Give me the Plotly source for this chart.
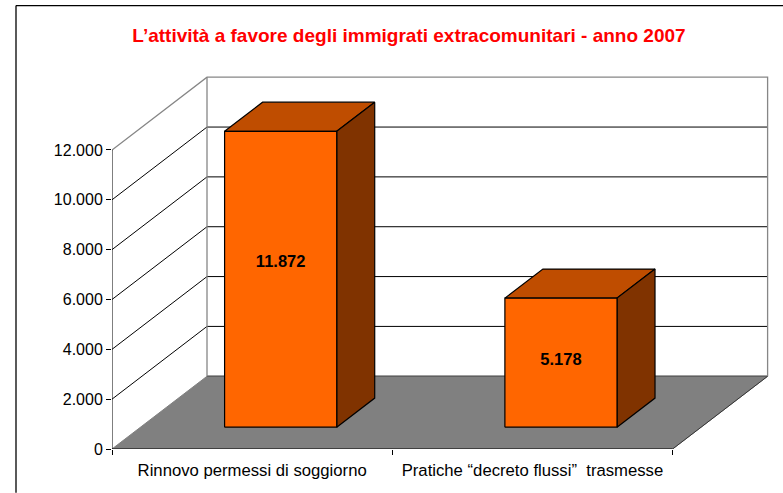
import plotly.graph_objects as go

TITLE = "L’attività a favore degli immigrati extracomunitari - anno 2007"
categories = ["Rinnovo permessi di soggiorno", "Pratiche “decreto flussi”  trasmesse"]
values = [11872, 5178]
value_labels = ["11.872", "5.178"]
y_ticks = [0, 2000, 4000, 6000, 8000, 10000, 12000]
y_tick_labels = ["0", "2.000", "4.000", "6.000", "8.000", "10.000", "12.000"]
label_levels = [6600, 2650]

W, H = 783, 493
L, T, BASE = 112, 60, 449.3
PX_X = 280.3      # pixels per category
PX_Y = 0.02494    # pixels per unit
DEPTH_X, DEPTH_Y = 95, 72.8  # pixel offset of back wall
BAR_GAP = 0.3
D0, D1 = 0.3, 0.7
N = len(categories)
YMAX = y_ticks[-1]


def proj(x, v, d=0.0):
    """oblique projection: category position, value, depth -> axis coordinates"""
    return x + d * DEPTH_X / PX_X, v + d * DEPTH_Y / PX_Y


def poly(points, fill=None, line="#000000", width=1.2, close=True):
    pts = [proj(*p) for p in points]
    if close:
        pts.append(pts[0])
    return go.Scatter(
        x=[p[0] for p in pts], y=[p[1] for p in pts], mode="lines",
        fill="toself" if fill else None, fillcolor=fill,
        line=dict(color=line, width=width), hoverinfo="skip", showlegend=False,
        cliponaxis=False,
    )


fig = go.Figure()

# floor
fig.add_trace(poly([(0, 0, 0), (N, 0, 0), (N, 0, 1), (0, 0, 1)], fill="#808080", line="#808080", width=1))
fig.add_trace(poly([(0, 0, 1), (N, 0, 1)], line="#5f5f5f", width=1.5, close=False))
fig.add_trace(poly([(N, 0, 0), (N, 0, 1)], line="#333333", width=1, close=False))

# walls: grid lines
for t in y_ticks[1:-1]:
    fig.add_trace(poly([(0, t, 0), (0, t, 1), (N, t, 1)], line="#000000", width=1, close=False))
fig.add_trace(poly([(0, YMAX, 0), (0, YMAX, 1), (N, YMAX, 1), (N, 0, 1)], line="#868686", width=1.3, close=False))
fig.add_trace(poly([(0, 0, 1), (0, YMAX, 1)], line="#868686", width=1.3, close=False))

# bars
for i, v in enumerate(values):
    a, b = i + BAR_GAP, i + 1 - BAR_GAP
    fig.add_trace(poly([(a, v, D0), (b, v, D0), (b, v, D1), (a, v, D1)], fill="#BF4D00"))
    fig.add_trace(poly([(b, 0, D0), (b, v, D0), (b, v, D1), (b, 0, D1)], fill="#803300"))
    fig.add_trace(poly([(a, 0, D0), (b, 0, D0), (b, v, D0), (a, v, D0)], fill="#FF6600"))

# value labels
lx, ly = zip(*[proj(i + 0.5, lv, D0) for i, lv in enumerate(label_levels)])
fig.add_trace(go.Scatter(
    x=lx, y=ly, mode="text", text=value_labels, textposition="middle center",
    textfont=dict(family="Liberation Sans", size=16.5, color="#000000", weight="bold"),
    hoverinfo="skip", showlegend=False,
))

plot_w, plot_h = W - L, BASE - T
fig.update_layout(
    width=W, height=H, autosize=False,
    margin=dict(l=L, r=0, t=T, b=H - BASE, pad=0),
    paper_bgcolor="#ffffff", plot_bgcolor="#ffffff",
    font=dict(family="Liberation Sans", color="#000000", size=16),
    title=dict(
        text=f"<b>{TITLE}</b>", x=409 / W, xanchor="center", y=1 - 35 / H, yanchor="middle",
        xref="container", yref="container",
        font=dict(family="Liberation Sans", size=19, color="#FF0000"),
    ),
    xaxis=dict(
        range=[0, plot_w / PX_X], showgrid=False, zeroline=False, showline=False,
        tickmode="array", tickvals=[i + 0.5 for i in range(N)], ticktext=categories, ticks="",
        tickfont=dict(size=16.7), ticklabelstandoff=9,
        minor=dict(tickmode="array", tickvals=list(range(N + 1)), ticks="outside", ticklen=5,
                   tickcolor="#000000", tickwidth=1),
        fixedrange=True,
    ),
    yaxis=dict(
        range=[0, plot_h / PX_Y], showgrid=False, zeroline=False, showline=False,
        tickmode="array", tickvals=y_ticks, ticktext=y_tick_labels,
        ticks="outside", ticklen=5, tickcolor="#000000", tickwidth=1,
        fixedrange=True,
    ),
    shapes=[
        # front axes
        dict(type="line", xref="x", yref="y", x0=0, x1=0, y0=0, y1=YMAX,
             line=dict(color="#000000", width=1)),
        dict(type="line", xref="x", yref="y", x0=0, x1=N, y0=0, y1=0,
             line=dict(color="#000000", width=1.2)),
        # frame around the chart, open at the right and bottom
        dict(type="line", xref="paper", yref="paper", x0=(16 - L) / plot_w, x1=1,
             y0=(BASE - 5.5) / plot_h, y1=(BASE - 5.5) / plot_h, line=dict(color="#000000", width=1.3)),
        dict(type="line", xref="paper", yref="paper", x0=(16 - L) / plot_w, x1=(16 - L) / plot_w,
             y0=(BASE - 5.5) / plot_h, y1=(BASE - H) / plot_h, line=dict(color="#000000", width=1.3)),
    ],
)

fig.write_html("out.html", config={"displayModeBar": False},
               post_script="document.body.style.margin='0';document.body.style.overflow='hidden';")
